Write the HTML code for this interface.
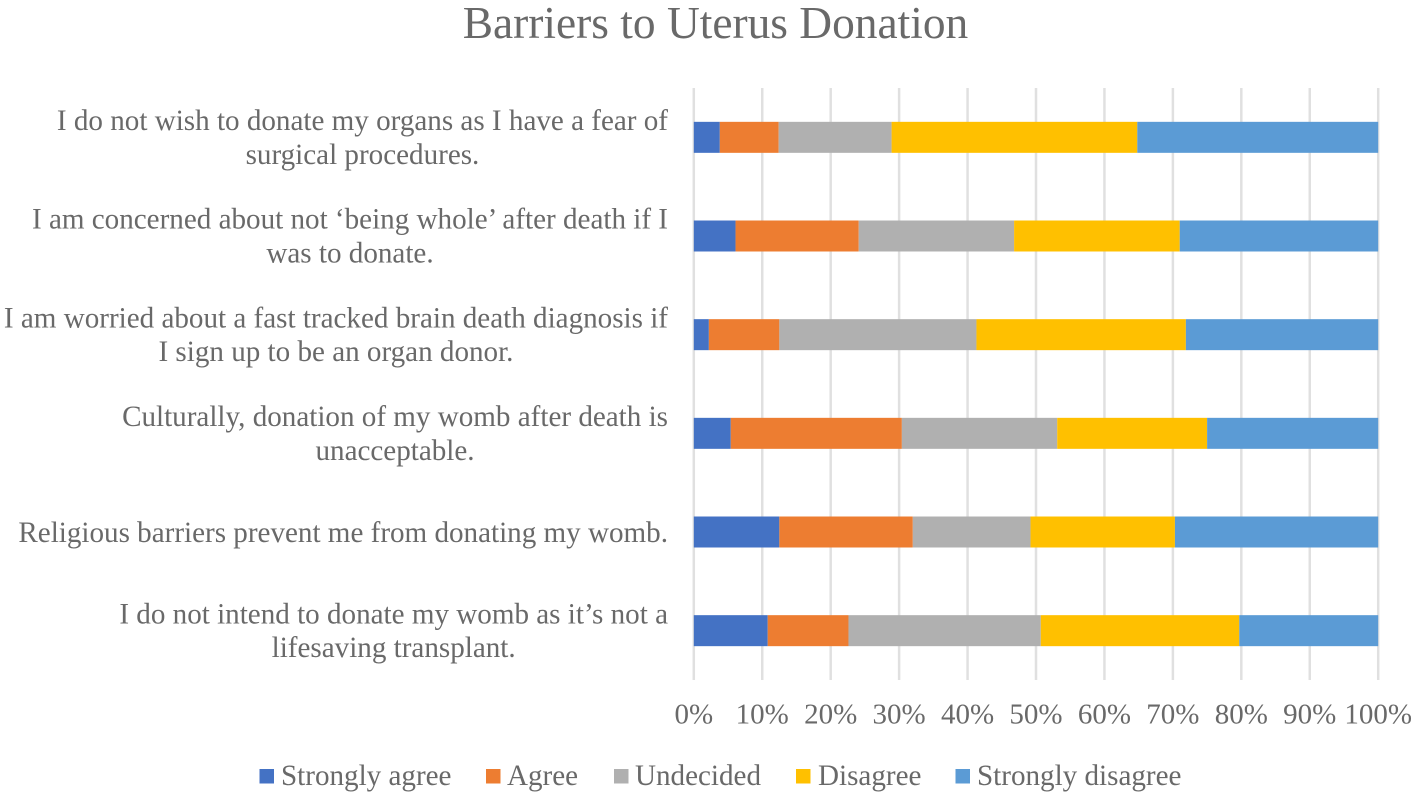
<!DOCTYPE html>
<html>
<head>
<meta charset="utf-8">
<style>
html,body{margin:0;padding:0;background:#fff;}
svg{display:block;}
text{font-family:"Liberation Serif",serif;fill:#696969;}
</style>
</head>
<body>
<svg id="chart" width="1418" height="798" viewBox="0 0 1418 798" xmlns="http://www.w3.org/2000/svg"></svg>
<script>
const categories = [
  ["I do not wish to donate my organs as I have a fear of", "surgical procedures."],
  ["I am concerned about not ‘being whole’ after death if I", "was to donate."],
  ["I am worried about a fast tracked brain death diagnosis if", "I sign up to be an organ donor."],
  ["Culturally, donation of my womb after death is", "unacceptable."],
  ["Religious barriers prevent me from donating my womb."],
  ["I do not intend to donate my womb as it’s not a", "lifesaving transplant."]
];
const seriesNames = ["Strongly agree", "Agree", "Undecided", "Disagree", "Strongly disagree"];
const stronglyAgree = [3.8, 6.1, 2.2, 5.4, 12.5, 10.8];
const agree = [8.6, 18.0, 10.3, 25.0, 19.5, 11.8];
const undecided = [16.5, 22.7, 28.8, 22.7, 17.2, 28.1];
const disagree = [35.9, 24.2, 30.6, 21.9, 21.1, 29.0];
const stronglyDisagree = [35.2, 29.0, 28.1, 25.0, 29.7, 20.3];
const tickLabels = ["0%", "10%", "20%", "30%", "40%", "50%", "60%", "70%", "80%", "90%", "100%"];
const tickValues = [0, 10, 20, 30, 40, 50, 60, 70, 80, 90, 100];
const seriesValues = [stronglyAgree, agree, undecided, disagree, stronglyDisagree];
const seriesColors = ["#4472c4", "#ed7d31", "#b0b0b0", "#ffc000", "#5b9bd5"];

const svg = document.getElementById('chart');
const NS = 'http://www.w3.org/2000/svg';
function make(tag, attrs, txt) {
  const e = document.createElementNS(NS, tag);
  for (const k in attrs) e.setAttribute(k, attrs[k]);
  if (txt !== undefined) e.textContent = txt;
  svg.appendChild(e);
  return e;
}
const x0 = 693.8, x1 = 1378.2, yTop = 88, yBottom = 680;
const labelSize = 29.1;
const xScale = v => x0 + (x1 - x0) * v / 100;
const bandH = (yBottom - yTop) / categories.length;
const yBand = i => yTop + bandH * i + bandH / 2;
const barH = 31;

function widthOf(s) {
  const t = make('text', {'font-size': labelSize, x: 0, y: -100}, s);
  const w = t.getComputedTextLength();
  svg.removeChild(t);
  return w;
}

const title = make('text', {x: 715.5, y: 38, 'text-anchor': 'middle', 'font-size': 45.4}, 'Barriers to Uterus Donation');



tickValues.forEach((v, i) => {
  const g = make('line', {x1: xScale(v), x2: xScale(v), y1: yTop, y2: yBottom, stroke: '#e0e0e0', 'stroke-width': 2.5});
  
  
  const t = make('text', {x: xScale(v), y: 723.5, 'text-anchor': 'middle', 'font-size': 29}, tickLabels[i]);
  
  
});

categories.forEach((lines, i) => {
  const cy = yBand(i);
  lines.forEach((ln, j) => {
    const y = lines.length === 2 ? cy - 7.3 + j * 33.8 : cy + 10;
    const t = make('text', {x: 668, y: y, 'font-size': labelSize, 'text-anchor': 'end'}, ln);
    
    
    if (lines.length === 2 && j === 1) {
      t.setAttribute('text-anchor', 'middle');
      t.setAttribute('x', 668 - widthOf(lines[0]) / 2);
    }
  });
  let acc = 0;
  seriesValues.forEach((vals, s) => {
    const r = make('rect', {x: xScale(acc), y: cy - barH / 2, width: xScale(acc + vals[i]) - xScale(acc), height: barH, fill: seriesColors[s]});
    
    
    acc += vals[i];
  });
});

const legendSwatchX = [259.5, 486, 614, 796, 955.5];
const legendTextX = [281, 507, 635, 818, 977];
seriesNames.forEach((n, i) => {
  const r = make('rect', {x: legendSwatchX[i], y: 769, width: 14.5, height: 14.5, fill: seriesColors[i]});
  
  
  const t = make('text', {x: legendTextX[i], y: 785, 'font-size': labelSize}, n);
  
  
});
</script>
</body>
</html>
